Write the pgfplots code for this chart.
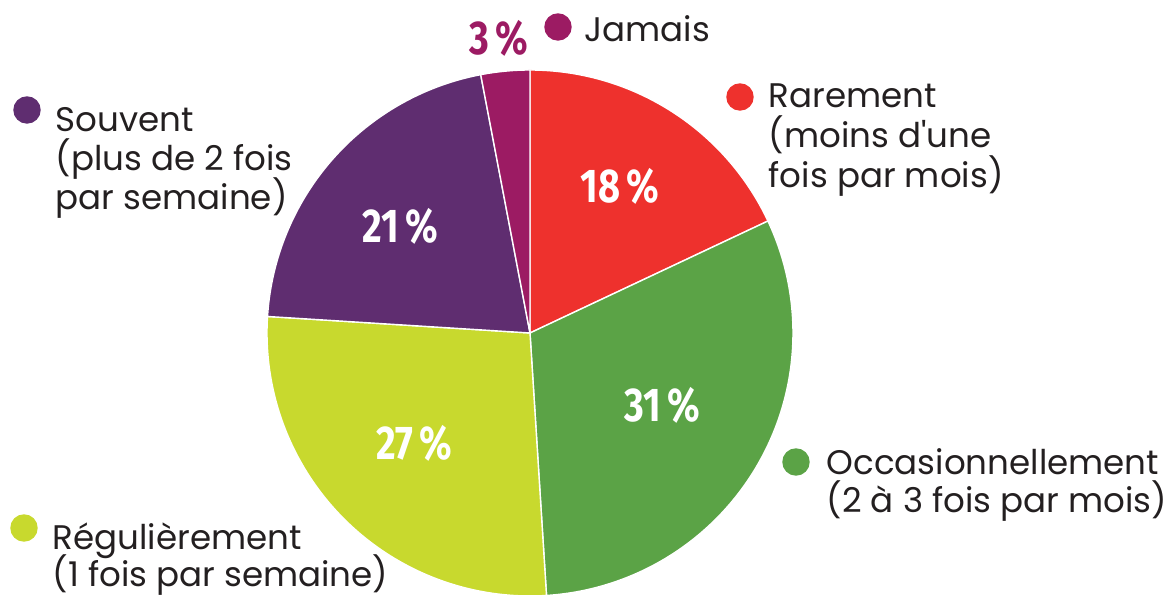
\documentclass[border=0pt]{standalone}
\usepackage{pgfplots}
\pgfplotsset{compat=1.18}
\usepackage{fontspec}
\setmainfont{Poppins}
\newfontfamily\pctfont{Fira Sans}[UprightFont=* Bold]
\definecolor{cRed}{HTML}{EE312D}
\definecolor{cGreen}{HTML}{5BA346}
\definecolor{cLime}{HTML}{C8D92E}
\definecolor{cPurple}{HTML}{5F2D70}
\definecolor{cMag}{HTML}{9C1B63}
\definecolor{cText}{HTML}{231F20}
% shares (percent), clockwise from 12 o'clock
\def\vR{18}\def\vO{31}\def\vG{27}\def\vS{21}\def\vJ{3}
\pgfmathsetmacro\aA{90}
\pgfmathsetmacro\aB{\aA-3.6*\vR}
\pgfmathsetmacro\aC{\aB-3.6*\vO}
\pgfmathsetmacro\aD{\aC-3.6*\vG}
\pgfmathsetmacro\aE{\aD-3.6*\vS}
\pgfmathsetmacro\aF{\aE-3.6*\vJ}
\def\cx{530}\def\cy{262}\def\rr{263}
\newcommand{\lab}{\fontsize{9.7}{10.67}\selectfont\color{cText}}
\newcommand{\pct}[1]{\scalebox{0.8}[1]{\pctfont\fontsize{13.5}{14}\selectfont #1}}
\tikzset{lt/.style={anchor=base west, inner sep=0pt, font=\lab}}
\begin{document}
\begin{tikzpicture}
\begin{axis}[
  scale only axis, width=11.65cm, height=5.95cm,
  xmin=0, xmax=1165, ymin=0, ymax=595,
  hide axis, clip=false,
]
\addplot[fill=cRed, draw=white, line width=0.4pt, domain=\aA:\aB, samples=80, variable=\t]
  ({\cx+\rr*cos(\t)},{\cy+\rr*sin(\t)}) -- (axis cs:\cx,\cy) -- cycle;
\addplot[fill=cGreen, draw=white, line width=0.4pt, domain=\aB:\aC, samples=120, variable=\t]
  ({\cx+\rr*cos(\t)},{\cy+\rr*sin(\t)}) -- (axis cs:\cx,\cy) -- cycle;
\addplot[fill=cLime, draw=white, line width=0.4pt, domain=\aC:\aD, samples=110, variable=\t]
  ({\cx+\rr*cos(\t)},{\cy+\rr*sin(\t)}) -- (axis cs:\cx,\cy) -- cycle;
\addplot[fill=cPurple, draw=white, line width=0.4pt, domain=\aD:\aE, samples=90, variable=\t]
  ({\cx+\rr*cos(\t)},{\cy+\rr*sin(\t)}) -- (axis cs:\cx,\cy) -- cycle;
\addplot[fill=cMag, draw=white, line width=0.4pt, domain=\aE:\aF, samples=20, variable=\t]
  ({\cx+\rr*cos(\t)},{\cy+\rr*sin(\t)}) -- (axis cs:\cx,\cy) -- cycle;
% legend markers
\addplot[only marks, mark=*, mark size=3.7pt, color=cMag] coordinates {(558,568)};
\addplot[only marks, mark=*, mark size=3.7pt, color=cRed] coordinates {(740,498)};
\addplot[only marks, mark=*, mark size=3.7pt, color=cPurple] coordinates {(27,485)};
\addplot[only marks, mark=*, mark size=3.7pt, color=cGreen] coordinates {(796,133)};
\addplot[only marks, mark=*, mark size=3.7pt, color=cLime] coordinates {(24,67)};
% legend texts
\node[lt] at (axis cs:584,553) {Jamais};
\node[lt] at (axis cs:768,487) {Rarement};
\node[lt] at (axis cs:768,447) {(moins d\textquotesingle une};
\node[lt] at (axis cs:768,407) {fois par mois)};
\node[lt] at (axis cs:55,463) {Souvent};
\node[lt] at (axis cs:55,424) {(plus de 2 fois};
\node[lt] at (axis cs:55,385) {par semaine)};
\node[lt] at (axis cs:826,120) {Occasionnellement};
\node[lt] at (axis cs:826,82) {(2 à 3 fois par mois)};
\node[lt] at (axis cs:52,45) {Régulièrement};
\node[lt] at (axis cs:52,8) {(1 fois par semaine)};
% percentages
\node[anchor=base, inner sep=0pt, text=white] at (axis cs:620,392) {\pct{18\,\%}};
\node[anchor=base, inner sep=0pt, text=white] at (axis cs:400,352) {\pct{21\,\%}};
\node[anchor=base, inner sep=0pt, text=white] at (axis cs:662,173) {\pct{31\,\%}};
\node[anchor=base, inner sep=0pt, text=white] at (axis cs:414,135) {\pct{27\,\%}};
\node[anchor=base, inner sep=0pt, text=cMag] at (axis cs:499,540) {\pct{3\,\%}};
\end{axis}
\pgfresetboundingbox
\path (current axis.south west) rectangle (current axis.north east);
\end{tikzpicture}
\end{document}
